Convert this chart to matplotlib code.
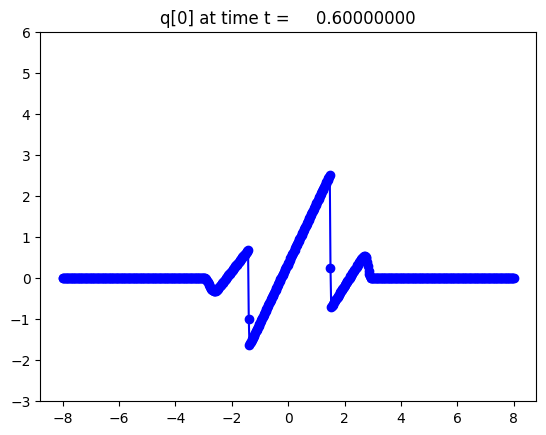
import numpy as np
import matplotlib
matplotlib.use("Agg")
import matplotlib.pyplot as plt

# malla uniforme de -8 a 8, paso 0.025
x = np.linspace(-8, 8, 641)

# q[0] leído de la figura
# x de -3.000 a -1.400
q_bache = [
    0.00, 0.00, -0.01, -0.02, -0.04, -0.07, -0.10, -0.14, -0.18, -0.21,
    -0.24, -0.27, -0.29, -0.30, -0.31, -0.32, -0.32, -0.31, -0.30, -0.28,
    -0.26, -0.24, -0.22, -0.20, -0.18, -0.16, -0.13, -0.11, -0.09, -0.07,
    -0.04, -0.02, 0.00, 0.02, 0.04, 0.07, 0.09, 0.11, 0.13, 0.15,
    0.18, 0.20, 0.22, 0.24, 0.26, 0.29, 0.31, 0.33, 0.35, 0.37,
    0.40, 0.42, 0.44, 0.46, 0.48, 0.51, 0.53, 0.55, 0.57, 0.59,
    0.62, 0.64, 0.66, 0.68, -1.00,
]
# x de -1.375 a 1.475
q_rampa = [
    -1.63, -1.59, -1.56, -1.52, -1.48, -1.45, -1.41, -1.38, -1.34, -1.30,
    -1.27, -1.23, -1.19, -1.16, -1.12, -1.09, -1.05, -1.01, -0.98, -0.94,
    -0.90, -0.87, -0.83, -0.80, -0.76, -0.72, -0.69, -0.65, -0.61, -0.58,
    -0.54, -0.50, -0.47, -0.43, -0.40, -0.36, -0.32, -0.29, -0.25, -0.21,
    -0.18, -0.14, -0.10, -0.07, -0.03, 0.00, 0.04, 0.08, 0.11, 0.15,
    0.19, 0.22, 0.26, 0.29, 0.33, 0.37, 0.40, 0.44, 0.48, 0.51,
    0.55, 0.59, 0.62, 0.66, 0.69, 0.73, 0.77, 0.80, 0.84, 0.88,
    0.91, 0.95, 0.98, 1.02, 1.06, 1.09, 1.13, 1.17, 1.20, 1.24,
    1.28, 1.31, 1.35, 1.38, 1.42, 1.46, 1.49, 1.53, 1.57, 1.60,
    1.64, 1.67, 1.71, 1.75, 1.78, 1.82, 1.86, 1.89, 1.93, 1.97,
    2.00, 2.04, 2.07, 2.11, 2.15, 2.18, 2.22, 2.26, 2.29, 2.33,
    2.36, 2.40, 2.44, 2.47, 2.51,
]
# x de 1.500 a 3.000
q_joroba = [
    0.24, -0.70, -0.67, -0.65, -0.62, -0.59, -0.56, -0.54, -0.51, -0.48,
    -0.45, -0.43, -0.40, -0.37, -0.35, -0.32, -0.29, -0.26, -0.24, -0.21,
    -0.18, -0.16, -0.13, -0.10, -0.07, -0.05, -0.02, 0.01, 0.04, 0.06,
    0.09, 0.12, 0.14, 0.17, 0.20, 0.23, 0.25, 0.28, 0.31, 0.33,
    0.36, 0.39, 0.41, 0.44, 0.46, 0.49, 0.51, 0.52, 0.53, 0.53,
    0.52, 0.48, 0.40, 0.29, 0.18, 0.09, 0.04, 0.01, 0.00, 0.00,
    0.00,
]
q_izq = [0.0] * 200   # x de -8 a -3.025
q_der = [0.0] * 200   # x de 3.025 a 8

q = np.array(q_izq + q_bache + q_rampa + q_joroba + q_der)
t = 0.6

fig, ax = plt.subplots()
ax.plot(x, q, 'bo-')
ax.set_ylim(-3, 6)
ax.set_title('q[0] at time t = %14.8f' % t)
fig.savefig("out.png", bbox_inches='tight')
